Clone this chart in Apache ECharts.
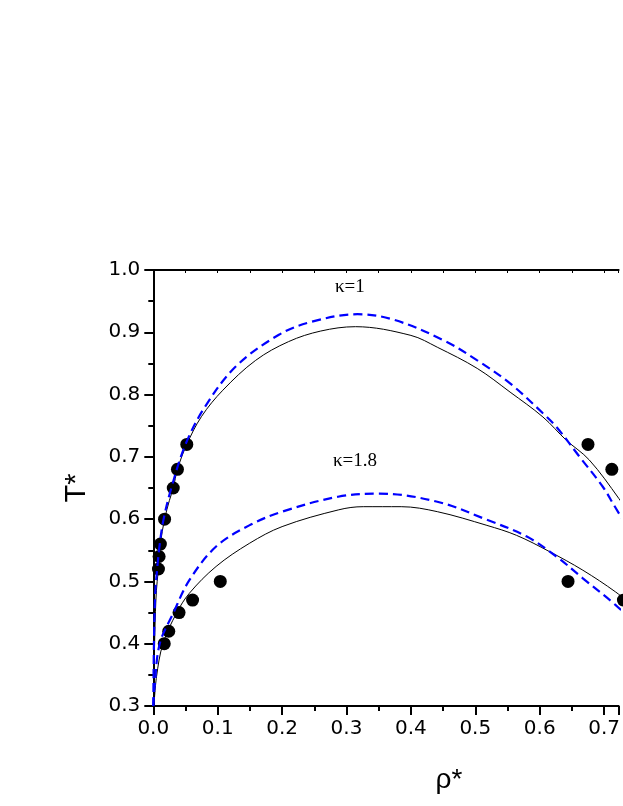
<!DOCTYPE html>
<html><head><meta charset="utf-8">
<script src="https://cdn.jsdelivr.net/npm/echarts@6/dist/echarts.min.js"></script>
<style>html,body{margin:0;padding:0;background:#fff}#c{width:623px;height:806px}</style>
</head><body><div id="c"></div><script>
// kappa = 1, solid black curve
const k1SolidRho = [0.0005, 0.002, 0.004, 0.006, 0.008, 0.011, 0.0175, 0.025, 0.031, 0.0375, 0.052, 0.075, 0.108, 0.159, 0.21, 0.26, 0.314, 0.40, 0.441, 0.503, 0.554, 0.605, 0.641, 0.677, 0.723, 0.75];
const k1SolidT   = [0.30, 0.40, 0.47, 0.50, 0.52, 0.56, 0.60, 0.63, 0.65, 0.68, 0.72, 0.765, 0.807, 0.855, 0.885, 0.902, 0.909, 0.895, 0.876, 0.842, 0.804, 0.764, 0.727, 0.695, 0.633, 0.59];
// kappa = 1, blue dashed curve
const k1DashRho = [0, 0.001, 0.003, 0.006, 0.010, 0.016, 0.028, 0.05, 0.08, 0.128, 0.195, 0.246, 0.317, 0.374, 0.451, 0.503, 0.554, 0.605, 0.626, 0.662, 0.698, 0.715, 0.74];
const k1DashT   = [0.30, 0.40, 0.48, 0.52, 0.56, 0.60, 0.65, 0.72, 0.78, 0.845, 0.896, 0.917, 0.929, 0.92, 0.887, 0.855, 0.818, 0.77, 0.748, 0.70, 0.652, 0.623, 0.58];
// kappa = 1.8, solid black curve
const k18SolidRho = [0.001, 0.005, 0.015, 0.036, 0.056, 0.0975, 0.149, 0.2, 0.288, 0.326, 0.385, 0.441, 0.518, 0.564, 0.615, 0.667, 0.718, 0.745];
const k18SolidT   = [0.30, 0.347, 0.40, 0.449, 0.481, 0.524, 0.561, 0.588, 0.615, 0.62, 0.62, 0.612, 0.59, 0.574, 0.548, 0.518, 0.483, 0.46];
// kappa = 1.8, blue dashed curve
const k18DashRho = [0, 0.002, 0.01, 0.031, 0.056, 0.0975, 0.149, 0.2, 0.287, 0.351, 0.441, 0.518, 0.58, 0.626, 0.667, 0.718, 0.745];
const k18DashT   = [0.30, 0.331, 0.40, 0.449, 0.502, 0.556, 0.59, 0.612, 0.636, 0.641, 0.628, 0.599, 0.572, 0.54, 0.505, 0.462, 0.435];
// simulation points
const k1PtsRho  = [0.008, 0.009, 0.011, 0.0175, 0.031, 0.0375, 0.052, 0.675, 0.712];
const k1PtsT    = [0.52, 0.54, 0.56, 0.60, 0.65, 0.68, 0.72, 0.72, 0.68];
const k18PtsRho = [0.017, 0.024, 0.04, 0.061, 0.104, 0.644, 0.73];
const k18PtsT   = [0.40, 0.42, 0.45, 0.47, 0.50, 0.50, 0.47];
// axis ticks (x axis is cut at the right edge of the picture)
const xTicks = { min: 0, max: 0.7226, step: 0.1 };
const yTicks = { min: 0.3, max: 1.0, step: 0.1 };

function pairs(a, b) { return a.map((v, i) => [v, b[i]]); }

const chart = echarts.init(document.getElementById('c'), null, { renderer: 'canvas' });
const tickFont = { fontFamily: 'DejaVu Sans', fontSize: 20, color: '#000' };
chart.setOption({
  animation: false,
  backgroundColor: '#fff',
  grid: { left: 153.3, top: 270, right: 0, bottom: 100 },
  xAxis: [{
    type: 'value', min: xTicks.min, max: xTicks.max, interval: xTicks.step,
    axisLine: { show: true, onZero: false, lineStyle: { color: '#000', width: 2 } },
    axisTick: { show: true, inside: false, length: 9, lineStyle: { color: '#000', width: 2 } },
    minorTick: { show: true, splitNumber: 2, length: 5, lineStyle: { color: '#000', width: 2 } },
    splitLine: { show: false },
    axisLabel: Object.assign({ margin: 13, showMaxLabel: false, formatter: v => v.toFixed(1) }, tickFont)
  }, {
    type: 'value', position: 'top', min: xTicks.min, max: xTicks.max, interval: 0.05,
    axisLine: { show: true, onZero: false, lineStyle: { color: '#000', width: 2 } },
    axisTick: { show: true, inside: true, length: 3, lineStyle: { color: '#000', width: 1 } },
    axisLabel: { show: false }, splitLine: { show: false }
  }],
  yAxis: [{
    type: 'value', min: yTicks.min, max: yTicks.max, interval: yTicks.step,
    axisLine: { show: true, onZero: false, lineStyle: { color: '#000', width: 2 } },
    axisTick: { show: true, inside: false, length: 9, lineStyle: { color: '#000', width: 2 } },
    minorTick: { show: true, splitNumber: 2, length: 5, lineStyle: { color: '#000', width: 2 } },
    splitLine: { show: false },
    axisLabel: Object.assign({ margin: 13, formatter: v => v.toFixed(1) }, tickFont)
  }],
  series: [
    { type: 'line', data: pairs(k1SolidRho, k1SolidT), showSymbol: false, symbol: 'none', smooth: 0.35,
      lineStyle: { color: '#000', width: 1 } },
    { type: 'line', data: pairs(k18SolidRho, k18SolidT), showSymbol: false, symbol: 'none', smooth: 0.35,
      lineStyle: { color: '#000', width: 1 } },
    { type: 'line', data: pairs(k1DashRho, k1DashT), showSymbol: false, symbol: 'none', smooth: 0.35,
      lineStyle: { color: '#0000ff', width: 2.2, type: [9, 5] } },
    { type: 'line', data: pairs(k18DashRho, k18DashT), showSymbol: false, symbol: 'none', smooth: 0.35,
      lineStyle: { color: '#0000ff', width: 2.2, type: [9, 5] } },
    { type: 'scatter', data: pairs(k1PtsRho, k1PtsT), symbol: 'circle', symbolSize: 13, clip: false,
      itemStyle: { color: '#000', opacity: 1 } },
    { type: 'scatter', data: pairs(k18PtsRho, k18PtsT), symbol: 'circle', symbolSize: 13, clip: false,
      itemStyle: { color: '#000', opacity: 1 } }
  ],
  graphic: [
    { type: 'text', left: 335, top: 278, style: { text: 'κ=1', font: '19px "Liberation Serif"', fill: '#000' } },
    { type: 'text', left: 333, top: 452, style: { text: 'κ=1.8', font: '19px "Liberation Serif"', fill: '#000' } },
    { type: 'text', x: 449, y: 780, style: { text: 'ρ*', font: '28px "Liberation Sans"', fill: '#000', align: 'center', verticalAlign: 'middle' } },
    { type: 'text', x: 77, y: 488, rotation: Math.PI / 2, style: { text: 'T*', font: '29px "Liberation Sans"', fill: '#000', align: 'center', verticalAlign: 'middle' } }
  ]
});
</script></body></html>
